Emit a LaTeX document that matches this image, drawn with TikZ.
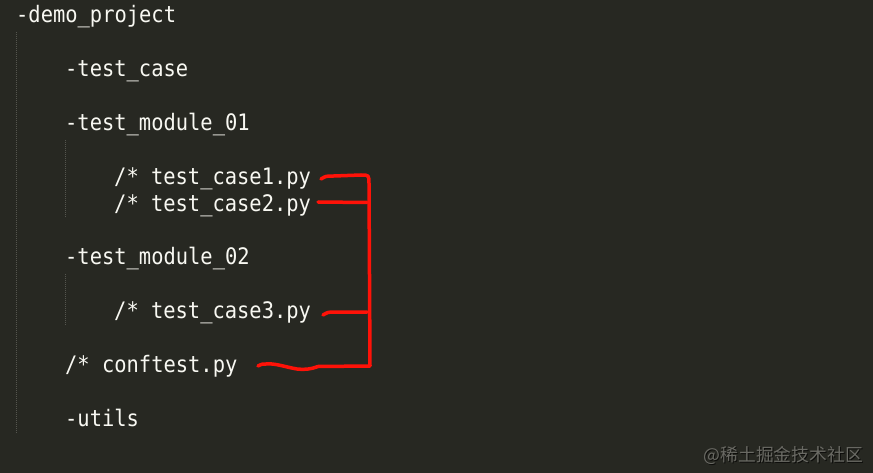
\documentclass[tikz,border=0pt]{standalone}
\usepackage{fontspec}
\newfontfamily\codefont[FakeStretch=0.9]{DejaVu Sans Mono}
\newfontfamily\cjkfont{Noto Sans CJK SC}
\definecolor{bgc}{HTML}{272822}
\definecolor{txtc}{HTML}{F8F8F2}
\definecolor{guidec}{HTML}{55564F}
\definecolor{redc}{HTML}{FF1208}
\definecolor{wmc}{HTML}{6A6A64}
\begin{document}
\begin{tikzpicture}[x=1pt,y=-1pt,
  code/.style={anchor=base west,inner sep=0pt,text=txtc,font=\codefont\fontsize{22.7}{27}\selectfont},
  guideline/.style={guidec,line width=1pt,dash pattern=on 1pt off 1pt},
  redmark/.style={redc,line width=3.5pt,line cap=round,line join=round}]
\fill[bgc] (0,0) rectangle (873,473);
\useasboundingbox (0,0) rectangle (873,473);
% indent guides
\draw[guideline] (16,32) -- (16,433);
\draw[guideline] (65,140) -- (65,217);
\draw[guideline] (65,274) -- (65,326);
% text lines
\node[code] (root) at (16,22.5) {-demo\_project};
\node[code] (tcase) at (65,76.4) {-test\_case};
\node[code] (m1) at (65,130.3) {-test\_module\_01};
\node[code] (c1) at (114,184.2) {/* test\_case1.py};
\node[code] (c2) at (114,211.1) {/* test\_case2.py};
\node[code] (m2) at (65,265) {-test\_module\_02};
\node[code] (c3) at (114,318.9) {/* test\_case3.py};
\node[code] (conf) at (65,372.8) {/* conftest.py};
\node[code] (utils) at (65,426.7) {-utils};
% red bracket
\coordinate (a1) at (321,179);
\coordinate (a2) at (318,202);
\coordinate (a3) at (323,315);
\coordinate (a4) at (258,366);
\draw[redmark] (a1) .. controls (326,176) .. (334,176) -- (361,175) .. controls (369,175) .. (369,184) -- (370,366) -- (318,366.5) .. controls (312,369) and (304,370) .. (297,369) .. controls (285,367) and (275,363) .. (266,364) .. controls (262,364) .. (a4);
\draw[redmark] (a2) -- (367,202.5);
\draw[redmark] (a3) .. controls (328,312) .. (337,312) -- (367,312);
% watermark
\node[anchor=east,inner sep=0pt,text=black!70!bgc,font=\cjkfont\fontsize{17.8}{20}\selectfont] (wms) at (864,456) {@稀土掘金技术社区};
\node[anchor=east,inner sep=0pt,text=wmc,font=\cjkfont\fontsize{17.8}{20}\selectfont] (wmk) at (863,455) {@稀土掘金技术社区};
\end{tikzpicture}
\end{document}
